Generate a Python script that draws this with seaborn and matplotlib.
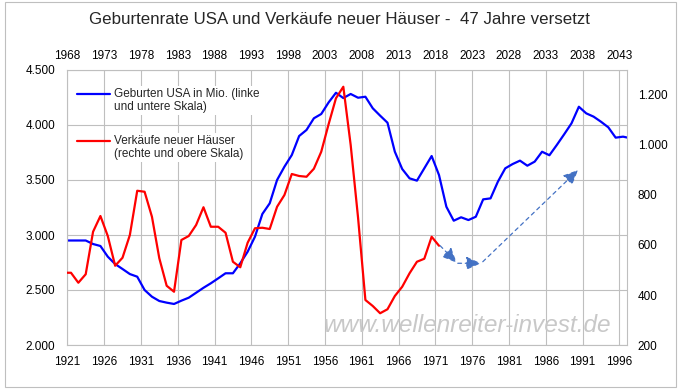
import matplotlib
matplotlib.use("Agg")
import matplotlib.pyplot as plt
from matplotlib.patches import Rectangle
from matplotlib.ticker import FuncFormatter
import seaborn as sns
import numpy as np

# Geburten USA in Tausend (untere Skala), 1920-1997
birth_years = list(range(1920, 1998))
births = [2950, 2950, 2950, 2950, 2918, 2900, 2803, 2736, 2691, 2645,
          2621, 2500, 2439, 2400, 2385, 2373, 2403, 2430, 2475, 2520,
          2561, 2606, 2652, 2652, 2743, 2848, 2985, 3191, 3288, 3500,
          3621, 3727, 3900, 3955, 4061, 4100, 4205, 4293, 4245, 4282,
          4248, 4257, 4152, 4085, 4021, 3757, 3600, 3515, 3494, 3606,
          3718, 3545, 3257, 3130, 3161, 3136, 3166, 3324, 3333, 3485,
          3606, 3645, 3676, 3630, 3667, 3757, 3725, 3818, 3915, 4015,
          4166, 4106, 4076, 4030, 3979, 3885, 3894, 3880]

# Verkaeufe neuer Haeuser in Tausend (obere Skala), 1967-2018
sales_years = list(range(1967, 2019))
sales = [489, 489, 449, 483, 653, 716, 636, 517, 549, 640,
         817, 813, 713, 547, 437, 413, 620, 636, 680, 751,
         673, 673, 649, 533, 511, 609, 667, 669, 664, 753,
         800, 884, 876, 873, 905, 973, 1083, 1187, 1233, 1000,
         710, 380, 356, 327, 343, 396, 433, 487, 533, 545,
         633, 597]

bottom_ticks = list(range(1921, 1997, 5))
top_ticks = list(range(1968, 2044, 5))
left_ticks = [2000, 2500, 3000, 3500, 4000, 4500]
right_ticks = [200, 400, 600, 800, 1000, 1200]

title = "Geburtenrate USA und Verkäufe neuer Häuser -  47 Jahre versetzt"
label_births = "Geburten USA in Mio. (linke\nund untere Skala)"
label_sales = "Verkäufe neuer Häuser\n(rechte und obere Skala)"
watermark = "www.wellenreiter-invest.de"

sns.set_style("white")
plt.rcParams["font.family"] = ["Liberation Sans", "DejaVu Sans"]

grid_col = "#BFBFBF"
de_fmt = FuncFormatter(lambda v, p: f"{int(round(v)):,}".replace(",", "."))

fig = plt.figure(figsize=(6.81, 3.90), dpi=100)
W, H = 681, 390
rect = [67.3 / W, 1 - 345 / H, 559.4 / W, 275 / H]
ax = fig.add_axes(rect)
ax2 = fig.add_axes(rect, frameon=False)
ax2.patch.set_visible(False)

# blue: births, points centred in each year
sns.lineplot(x=np.array(birth_years) + 0.5, y=births, ax=ax, color="#0000FF",
             linewidth=1.6, legend=False)
ax.set_xlim(1921, 1997)
ax.set_ylim(2000, 4500)
ax.set_xticks(bottom_ticks)
ax.set_yticks(left_ticks)
ax.yaxis.set_major_formatter(de_fmt)
ax.grid(True, color=grid_col, linewidth=0.8)
ax.tick_params(length=0, labelsize=8.5, colors="black")
ax.tick_params(axis="y", pad=8.5)
ax.tick_params(axis="x", pad=8)
for s in ax.spines.values():
    s.set_color(grid_col)
    s.set_linewidth(0.8)
ax.set_xlabel("")
ax.set_ylabel("")

# red: home sales on top / right scales
sns.lineplot(x=np.array(sales_years) + 0.5, y=sales, ax=ax2, color="#FF0000",
             linewidth=1.6, legend=False)
ax2.set_xlim(1968, 2044)
ax2.set_ylim(200, 1300)
ax2.set_xticks(top_ticks)
ax2.set_yticks(right_ticks)
ax2.yaxis.set_major_formatter(de_fmt)
ax2.xaxis.tick_top()
ax2.yaxis.tick_right()
ax2.tick_params(length=0, labelsize=8.5, colors="black")
ax2.tick_params(axis="y", pad=8)
ax2.tick_params(axis="x", pad=6)
ax2.set_xlabel("")
ax2.set_ylabel("")
ax2.grid(False)

# dashed projection arrows
arrow_col = "#4472C4"
segs = [((1971.65, 2903), (1973.9, 2748)),
        ((1974.05, 2743), (1977.2, 2743)),
        ((1977.45, 2757), (1990.4, 3591))]
for start, end in segs:
    ax.annotate("", xy=end, xytext=start,
                arrowprops=dict(arrowstyle="-|>,head_length=0.9,head_width=0.4",
                                linestyle=(0, (3, 3)), color=arrow_col,
                                lw=0.9, shrinkA=0, shrinkB=0),
                zorder=5)

# watermark
ax.text(0.715, 0.072, watermark, transform=ax.transAxes, ha="center",
        va="center", fontsize=17.6, style="italic", color="#C8C8C8", zorder=1)

# legend
hb = ax.get_lines()[0]
hr = ax2.get_lines()[0]
leg = ax2.legend([hb, hr], [label_births, label_sales], loc="upper left",
                 bbox_to_anchor=(9.4 / 559.4, 0.935), frameon=False,
                 fontsize=8.5, handlelength=2.85, handletextpad=0.3,
                 labelspacing=1.9, borderpad=0, borderaxespad=0)
for t in leg.get_texts():
    t.set_linespacing(1.1)
    t.set_bbox(dict(facecolor="white", edgecolor="none", pad=1.5))
# put the handle next to the first text line, as in Excel
for h in leg.legend_handles:
    h.set_ydata(np.asarray(h.get_ydata()) + 4.7)

fig.text(339 / W, 1 - 20 / H, title, ha="center", va="center", fontsize=12.2)

fig.add_artist(Rectangle((5 / W, 3 / H), 671 / W, 385 / H, transform=fig.transFigure,
                         fill=False, edgecolor="#BFBFBF", linewidth=0.8))

fig.savefig("out.png", dpi=100)
